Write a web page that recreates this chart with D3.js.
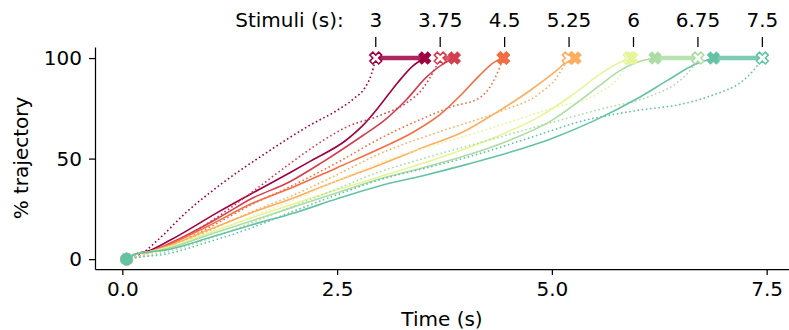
<!DOCTYPE html>
<html><head><meta charset="utf-8">
<script src="https://cdn.jsdelivr.net/npm/d3@7"></script>
<style>
body{margin:0;background:#fff}
svg{display:block}
text{font-family:"DejaVu Sans",sans-serif}
</style>
</head><body>
<svg id="chart" width="789" height="330"></svg>
<script>
// ---------- data ----------
const stimuli = [3, 3.75, 4.5, 5.25, 6, 6.75, 7.5];
const stimLabels = ["3", "3.75", "4.5", "5.25", "6", "6.75", "7.5"];
const colors = ["#9e0142", "#d53e4f", "#f46d43", "#fdae61", "#e6f598", "#abdda4", "#66c2a5"];
const xTicks = [0, 2.5, 5, 7.5];
const yTicks = [0, 50, 100];
const stimAxisShift = -0.05;

// [time (s), % trajectory]
const solid_3 = [[0.05,0],[0.15,2.5],[0.3,4],[0.56,9.5],[1.14,24],[1.5,32.5],[1.95,43],[2.2,49],[2.6,59],[2.8,66.5],[3.0,76.5],[3.2,87.5],[3.38,96],[3.52,100]];
const dotted_3 = [[0.05,0],[0.2,2],[0.4,9],[0.75,23.5],[1.14,37],[1.68,53],[2.2,67],[2.5,74],[2.7,80],[2.82,85],[2.9,92],[2.95,100]];
const solid_375 = [[0.05,0],[0.15,2.5],[0.3,3.5],[0.56,8],[1.14,21],[1.5,30],[1.95,38.5],[2.34,48.5],[2.8,61.5],[3.05,69],[3.3,79],[3.54,90.5],[3.75,97.5],[3.865,100]];
const dotted_375 = [[0.05,0],[0.2,2],[0.5,6.5],[1.0,18],[1.5,33],[1.95,47.5],[2.3,58],[2.6,65.5],[3.0,71.5],[3.3,77.5],[3.5,85],[3.63,94],[3.7,100]];
const solid_45 = [[0.05,0],[0.15,2.5],[0.3,3.5],[0.5,6.5],[1.0,16.5],[1.5,27.5],[2.0,36],[2.5,45.5],[3.0,55],[3.4,63.5],[3.7,72],[3.95,82],[4.15,91],[4.33,98],[4.435,100]];
const dotted_45 = [[0.05,0],[0.2,1.5],[0.5,5.5],[1.0,15.5],[1.5,27],[2.0,37],[2.5,48],[3.0,60],[3.5,70],[3.85,76],[4.15,80],[4.3,87],[4.39,95],[4.435,100]];
const solid_525 = [[0.05,0],[0.15,2.5],[0.3,3.5],[0.5,6],[1.0,14.5],[1.5,23],[2.0,30.5],[2.5,39],[3.0,47],[3.5,55.5],[4.0,64],[4.3,71.5],[4.75,84],[5.06,94],[5.2,99],[5.27,100]];
const dotted_525 = [[0.05,0],[0.2,1.5],[0.5,5],[1.0,14],[1.5,23.5],[2.0,32],[2.5,42],[3.0,52.5],[3.7,63.5],[4.4,73.5],[4.86,82.5],[5.05,90],[5.15,97],[5.19,100]];
const solid_6 = [[0.05,0],[0.15,2.5],[0.3,3.5],[0.5,5.5],[1.0,13],[1.5,20.5],[2.0,27.5],[2.5,34.5],[3.0,41],[3.7,50.5],[4.3,60],[4.86,71],[5.25,82],[5.56,92],[5.8,98],[5.93,100]];
const dotted_6 = [[0.05,0],[0.2,1.5],[0.5,4.5],[1.0,12.5],[1.5,21],[2.0,29.5],[2.5,39],[3.0,48],[4.17,63.5],[5.0,75],[5.56,83],[5.78,90.5],[5.87,97],[5.9,100]];
const solid_675 = [[0.05,0],[0.15,2.5],[0.3,3.5],[0.5,5],[1.0,12],[1.5,19],[2.0,26],[2.5,33],[3.0,40],[3.5,45.5],[4.0,51.5],[4.5,59],[5.0,69],[5.3,78],[5.56,86.5],[5.8,94],[6.0,98],[6.2,100]];
const dotted_675 = [[0.05,0],[0.2,1],[0.5,3.5],[1.0,10],[1.5,18],[2.0,26.5],[2.5,35],[3.0,43.5],[3.5,50],[4.0,56],[4.5,62],[5.0,68],[5.56,74.5],[6.14,81],[6.45,87.5],[6.61,94],[6.7,100]];
const solid_75 = [[0.05,0],[0.15,2.5],[0.3,3.5],[0.5,4.5],[1.0,10.5],[1.5,17],[2.0,23],[2.5,30],[3.0,36.5],[3.5,41.5],[4.0,47],[4.5,53],[5.0,60],[5.5,69],[6.0,80],[6.35,89],[6.65,96.5],[6.88,100]];
const dotted_75 = [[0.05,0],[0.2,1],[0.5,2.5],[1.0,8.5],[1.5,15.5],[2.0,24],[2.5,32],[3.0,39.5],[3.5,45],[4.0,50.5],[4.5,57],[5.0,64],[5.33,68.5],[5.6,71],[6.0,74],[6.5,77],[6.9,82],[7.2,88],[7.35,94],[7.45,100]];

const solids = [solid_3, solid_375, solid_45, solid_525, solid_6, solid_675, solid_75];
const dotteds = [dotted_3, dotted_375, dotted_45, dotted_525, dotted_6, dotted_675, dotted_75];

// ---------- layout ----------
const svg = d3.select("#chart");
const x = d3.scaleLinear().domain([-0.318, 7.76]).range([95, 789]);
const y = d3.scaleLinear().domain([-4.9, 105.5]).range([269, 47]);
const FS = 20;

const line = d3.line().x(d => x(d[0])).y(d => y(d[1])).curve(d3.curveMonotoneX);

// X-shaped marker (filled plus rotated 45deg)
const plusVerts = [[-1,-3],[1,-3],[1,-1],[3,-1],[3,1],[1,1],[1,3],[-1,3],[-1,1],[-3,1],[-3,-1],[-1,-1]];
function xMarker(size) {
  const c = Math.SQRT1_2;
  return "M" + plusVerts.map(([a,b]) => {
    const u = a / 6 * size, v = b / 6 * size;
    return [(u * c - v * c).toFixed(2), (u * c + v * c).toFixed(2)].join(",");
  }).join("L") + "Z";
}
const MS = 12.5;

// axes
const gx = svg.append("g").attr("transform", "translate(0,269)")
  .call(d3.axisBottom(x).tickValues(xTicks).tickFormat(d3.format(".1f")).tickSize(6).tickSizeOuter(0).tickPadding(7));
const gy = svg.append("g").attr("transform", "translate(95,0)")
  .call(d3.axisLeft(y).tickValues(yTicks).tickSize(6).tickSizeOuter(0).tickPadding(7));
[gx, gy].forEach(g => {
  g.selectAll("text").attr("font-size", FS).attr("fill", "#000").attr("font-family", "DejaVu Sans");
  g.selectAll("line").attr("stroke", "#000").attr("stroke-width", 1.25);
  g.select(".domain").attr("stroke", "#000").attr("stroke-width", 1.25);
});

// top stimulus ticks
const gt = svg.append("g");
gt.selectAll("line").data(stimuli).join("line")
  .attr("x1", d => x(d + stimAxisShift)).attr("x2", d => x(d + stimAxisShift))
  .attr("y1", 37).attr("y2", 47).attr("stroke", "#000").attr("stroke-width", 1.25);
gt.selectAll("text").data(stimuli).join("text")
  .attr("x", d => x(d + stimAxisShift)).attr("y", 27)
  .attr("text-anchor", "middle").attr("font-size", FS).text((d, i) => stimLabels[i]);
svg.append("text").attr("x", x(stimuli[0] + stimAxisShift) - 32).attr("y", 27)
  .attr("text-anchor", "end").attr("font-size", FS).text("Stimuli (s):");

// axis labels
svg.append("text").attr("x", 442).attr("y", 326).attr("text-anchor", "middle")
  .attr("font-size", FS).text("Time (s)");
svg.append("text").attr("transform", "translate(28,158) rotate(-90)").attr("text-anchor", "middle")
  .attr("font-size", FS).text("% trajectory");

// curves
const gc = svg.append("g");
stimuli.forEach((s, i) => {
  const col = colors[i];
  gc.append("path").attr("d", line(dotteds[i])).attr("fill", "none")
    .attr("stroke", col).attr("stroke-width", 1.6).attr("stroke-dasharray", "1.6,2.6");
  gc.append("path").attr("d", line(solids[i])).attr("fill", "none")
    .attr("stroke", col).attr("stroke-width", 1.6);
});
stimuli.forEach((s, i) => {
  const col = colors[i];
  const de = dotteds[i][dotteds[i].length - 1];
  const se = solids[i][solids[i].length - 1];
  gc.append("line").attr("x1", x(de[0])).attr("x2", x(se[0]))
    .attr("y1", y(de[1])).attr("y2", y(se[1]))
    .attr("stroke", col).attr("stroke-width", 4.5).attr("stroke-opacity", 0.85);
  gc.append("path").attr("d", xMarker(MS))
    .attr("transform", `translate(${x(de[0])},${y(de[1])})`)
    .attr("fill", "#fff").attr("stroke", col).attr("stroke-width", 1.6);
  gc.append("path").attr("d", xMarker(MS))
    .attr("transform", `translate(${x(se[0])},${y(se[1])})`)
    .attr("fill", col).attr("stroke", col).attr("stroke-width", 1.2);
});
// start points
gc.selectAll("circle").data(solids).join("circle")
  .attr("cx", d => x(d[0][0])).attr("cy", d => y(d[0][1])).attr("r", 6.3)
  .attr("fill", (d, i) => colors[i]);
</script>
</body></html>
